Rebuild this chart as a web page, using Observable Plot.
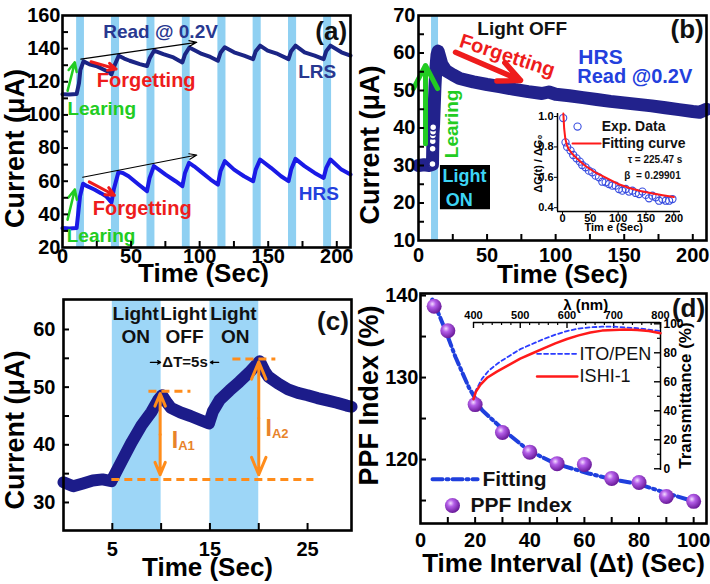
<!DOCTYPE html>
<html>
<head>
<meta charset="utf-8">
<script src="https://cdn.jsdelivr.net/npm/d3@7"></script>
<script src="https://cdn.jsdelivr.net/npm/@observablehq/plot@0.6"></script>
<style>
html,body{margin:0;padding:0;background:#fff;}
#wrap{position:relative;width:710px;height:584px;background:#fff;overflow:hidden;}
</style>
</head>
<body>
<div id="wrap"></div>
<script>
// ================= DATA =================
// ---- Panel (a) ----
const bandsA = [[10.3,16],[35.7,41.6],[61.6,67.4],[87.4,93.1],[113.3,119.2],[139,144.9],[164.8,170.7],[190.4,196.2]];
const lrsA = [[0,112.5],[5,112.3],[10.3,112.6],[12,119],[13,127],[15.3,132.3],[19.6,130.6],[24.5,129.5],[28,128.2],[31.8,126.7],[35.7,124.5],
  [37.5,129],[41,135.7],[45,134],[49,132.7],[56.4,130.7],[61.6,129.5],[63.5,134],[66.8,138.8],[73.5,136.7],[80.9,134.7],[87.4,131.7],
  [89.3,136.5],[92.5,140.7],[101.6,136.8],[107.8,135],[113.3,132.7],[115.2,137.5],[118.3,140.8],[125.1,137.8],[132.4,135.8],[139,133.7],
  [140.9,138.5],[144.1,141.8],[149.6,138.8],[156.9,136.8],[164.8,133.7],[166.7,138.5],[169.9,141.8],[176.5,137.8],[183.9,135.8],[190.4,133.7],
  [192.3,138.5],[195.4,141.8],[203.4,137.8],[210,135.8]];
const hrsA = [[0,31.7],[5,31.5],[10.3,31.7],[11.5,41],[12.8,51],[15,58.5],[18,57],[23.2,55],[28,52.8],[31.8,50.9],[35.7,47.2],
  [37.5,55.5],[40.8,65.5],[44,65],[48.2,63],[55.5,58],[61.6,54],[63.5,62],[66.6,69.1],[70,67.2],[75.2,64],[82.5,60],[87.4,57],
  [89.3,65],[92.3,71.1],[96,69],[102,65],[108,61],[113.3,58],[115.2,66],[118.4,72.1],[125.1,67],[132.4,63],[139,60],
  [140.9,67],[144.1,73.1],[152,68.1],[159.4,63],[164.8,60],[166.7,67],[169.9,73.5],[176.5,69.1],[183.9,65],[190.4,62],
  [192.3,68],[195.4,73.1],[203.4,67],[210,64]];
const yTickLabelsA = [20,40,60,80,100,120,140,160];
const yTicksA = [30,40,50,60,70,80,90,100,110,120,130,140,150];
const xTickLabelsA = [0,50,100,150,200];
const xTicksA = [25,50,75,100,125,150,175,200];
const textA = [
  {t:"Read @ 0.2V", x:71.5, y:149.9, c:"#283890", s:19},
  {t:"LRS", x:185.7, y:125.8, c:"#283890", s:19},
  {t:"HRS", x:186.9, y:52.4, c:"#2340dd", s:19},
  {t:"Forgetting", x:61, y:120.8, c:"#ee1c1c", s:20},
  {t:"Forgetting", x:58.1, y:43.3, c:"#ee1c1c", s:20},
  {t:"Learing", x:28.6, y:103.7, c:"#22cc22", s:19},
  {t:"Learing", x:28.1, y:27.2, c:"#22cc22", s:19},
  {t:"(a)", x:195.9, y:150.5, c:"#111", s:26}
];
const blackArrA = [{x1:13.4,y1:133.7,x2:97.9,y2:143.8},{x1:14.7,y1:62.4,x2:97.9,y2:75.8}];
const redArrA = [{x1:20.8,y1:132.1,x2:39.1,y2:127.7},{x1:19.5,y1:59.6,x2:37.9,y2:51.5}];
const greenArrA = [{x1:3.7,y1:114.5,x2:9,y2:131.7},{x1:3.7,y1:36.8,x2:9,y2:55}];

// ---- Panel (b) ----
const bandsB = [[9.5,14.6]];
const hrsB = [[0,30],[4,30.2],[8,30],[10.2,30.3],[10.4,35],[10.6,38.5],[11,41],[11.5,46],[12,51],[12.7,56],[13.5,59.5],[14.3,60.5],
  [15.5,59],[17,57],[20,55.3],[25,54.2],[30,53.2],[40,52.3],[50,51.6],[60,51],[70,50.3],[80,49.7],[90,49.2],[95,49.6],[100,49],
  [110,48.6],[120,48.1],[130,47.6],[140,47.1],[150,46.7],[160,46.3],[170,45.9],[180,45.4],[190,44.9],[200,44.4],[205,44.2],[210,45]];
const risingB = [[9.6,30.3],[10.2,30.4],[10.3,34.5],[10.4,36.5],[10.5,38],[10.6,39],[10.7,40.2]];
const yTickLabelsB = [10,20,30,40,50,60,70];
const yTicksB = [15,20,25,30,35,40,45,50,55,60,65];
const xTickLabelsB = [0,50,100,150,200];
const xTicksB = [25,50,75,100,125,150,175,200];
const textB = [
  {t:"Light OFF", x:75.6, y:66.3, c:"#111", s:19},
  {t:"(b)", x:195.9, y:66.3, c:"#111", s:26},
  {t:"Forgetting", x:64.7, y:59.3, c:"#ee1c1c", s:20, r:18},
  {t:"HRS", x:132.7, y:58.9, c:"#2340dd", s:21},
  {t:"Read @0.2V", x:157.7, y:53.6, c:"#2340dd", s:20},
  {t:"Learing", x:24.5, y:41.1, c:"#22cc22", s:19, r:-90},
  {t:"Light", x:33.5, y:27.1, c:"#3dd5f5", s:18},
  {t:"ON", x:29.7, y:20.7, c:"#3dd5f5", s:18}
];
const lightOnBoxB = [{x1:16, x2:52.5, y1:18.2, y2:30}];
const redArrB = [{x1:27,y1:60.2,x2:74.4,y2:52.7}];
const greenArrB = [{x1:5.1,y1:35.8,x2:5.1,y2:56.7}];

// ---- Panel (b) inset ----
const expB = [[1.2,0.99],[5.4,0.83],[8.4,0.80],[14.4,0.776],[19.2,0.747],[25.2,0.725],[31.2,0.703],[35.4,0.681],[41.4,0.666],[47.4,0.644],
  [53.4,0.633],[59.5,0.611],[65.5,0.60],[71.5,0.571],[77.5,0.567],[83.5,0.556],[89.5,0.545],[95.5,0.545],[101.5,0.523],[107.5,0.512],
  [113.5,0.523],[119.5,0.506],[125.5,0.512],[131.5,0.497],[137.5,0.49],[143.5,0.506],[149.5,0.484],[155.5,0.462],[161.5,0.479],
  [167.5,0.468],[173.5,0.446],[179.5,0.457],[185.5,0.446],[191.5,0.446],[197.5,0.457]];
const fitB = [[1.5,1.02],[3,0.92],[5,0.855],[8,0.81],[12,0.78],[20,0.745],[30,0.71],[40,0.678],[50,0.653],[60,0.63],[75,0.603],
  [90,0.575],[100,0.556],[120,0.53],[140,0.51],[160,0.495],[180,0.482],[200,0.47]];
const insetBYTicks = [0.4,0.6,0.8,1.0];
const insetBXTicks = [0,50,100,150,200];
const legendDotB = [[27,0.934]];
const legendLineB = [[18,0.822],[68.5,0.822]];
const textInsetB = [
  {t:"Exp. Data", x:70.3, y:0.934, s:14, a:"start"},
  {t:"Fitting curve", x:70.3, y:0.822, s:14, a:"start"},
  {t:"τ = 225.47 s", x:117, y:0.717, s:10, a:"start"},
  {t:"β  = 0.29901", x:111, y:0.611, s:10, a:"start"}
];

// ---- Panel (c) ----
const bandsC = [[5,10],[15,20]];
const curC = [[0,33.5],[1,32.8],[2,33.3],[3,33.8],[4,34],[4.9,33.7],[5.3,35],[6,37.3],[7,40.5],[8,43.4],[9,45.7],[9.7,47.8],[10.1,48.6],
  [10.6,47.3],[11,46.4],[12,45.6],[13,45],[14,44.3],[14.9,43.7],[15.3,45.8],[16,47.8],[17,49.4],[18,50.9],[19,52.5],[19.7,53.8],
  [20.1,54.5],[20.6,52.8],[21,51.8],[22,50.6],[23,49.6],[24,49],[25,48.6],[26,48.1],[27,47.7],[28,47.3],[29,46.8],[29.5,46.6]];
const yTickLabelsC = [30,40,50,60];
const yTicksC = [30,35,40,45,50,55,60];
const xTickLabelsC = [5,15,25];
const xTicksC = [5,10,15,20,25];
const dashC = [{x1:8.7,x2:13,y:49.3},{x1:17.3,x2:21.7,y:54.9},{x1:4.9,x2:25.6,y:34}];
const orangeArrC = [
  {x1:9.9,y1:41.8,x2:9.9,y2:48.9},{x1:9.9,y1:41.8,x2:9.9,y2:34.8},
  {x1:20,y1:44.6,x2:20,y2:54.4},{x1:20,y1:44.6,x2:20,y2:34.8}];
const smallArrC = [{x1:8.9,y1:54.3,x2:9.95,y2:54.3},{x1:15.9,y1:54.3,x2:15.05,y2:54.3}];
const textC = [
  {t:"Light", x:7.4, y:62.7, s:19}, {t:"ON", x:7.4, y:58.7, s:19},
  {t:"Light", x:12.3, y:62.7, s:19}, {t:"OFF", x:12.4, y:58.7, s:19},
  {t:"Light", x:17.4, y:62.7, s:19}, {t:"ON", x:17.6, y:58.7, s:19},
  {t:"ΔT=5s", x:12.45, y:54.3, s:15},
  {t:"(c)", x:27.6, y:61.4, s:26},
  {t:"I", x:11.1, y:40.8, s:23, a:"start", c:"#e8832a"},
  {t:"A1", x:11.75, y:39.9, s:13, a:"start", c:"#e8832a"},
  {t:"I", x:20.7, y:42.8, s:23, a:"start", c:"#e8832a"},
  {t:"A2", x:21.35, y:41.9, s:13, a:"start", c:"#e8832a"}
];

// ---- Panel (d) ----
const intervalD = [5,10,20,30,40,50,60,70,80,90,100];
const ppfD = [138.7,135.7,126.7,123.3,120.9,119.5,119.4,117.7,117.2,115.5,114.9];
const fitD = [[4.3,139.5],[7,137.5],[9.2,135.7],[12.8,132.5],[17.7,128.8],[22.6,126],[31.1,123.4],[39.6,121.1],[49.4,119.5],
  [61.6,118.3],[70,117.6],[80,117],[90,115.9],[100,114.9]];
const yTickLabelsD = [120,130,140];
const yTicksD = [115,120,125,130,135,140];
const xTickLabelsD = [0,20,40,60,80,100];
const xTicksD = [10,20,30,40,50,60,70,80,90,100];
const legendFitD = [[4.4,117.6],[20.9,117.6]];
const legendDotD = [[11.7,114.4]];
const textD = [
  {t:"(d)", x:98.1, y:138.4, s:26},
  {t:"Fitting", x:22.7, y:117.6, s:21, a:"start"},
  {t:"PPF Index", x:18.3, y:114.4, s:21, a:"start"}
];

// ---- Panel (d) inset ----
const itoD = [[400,48],[405,54],[418,62],[432,67.5],[453,73],[475,77.5],[500,82.5],[525,86],[550,89.5],[575,92.5],[600,95],
  [625,96.7],[650,97.6],[675,98],[700,98],[725,97.5],[750,97],[775,96],[800,95]];
const ishiD = [[400,48],[405,53],[415,58],[430,63],[450,67],[475,71.5],[500,76],[525,79.5],[550,83],[575,86.5],[600,89.5],
  [625,92],[650,94],[675,95.3],[700,95.8],[725,96],[750,95.8],[775,95],[800,93.5]];
const insetDTopLabels = [400,500,600,700,800];
const insetDTopMinor = [420,440,460,480,520,540,560,580,620,640,660,680,720,740,760,780];
const insetDRightLabels = [0,20,40,60,80,100];
const insetDRightMinor = [10,30,50,70,90];
const legendItoD = [[536,79.3],[622,79.3]];
const legendIshiD = [[536,63.7],[622,63.7]];
const textInsetD = [
  {t:"ITO/PEN", x:627, y:79.3, s:18, a:"start", w:"normal"},
  {t:"ISHI-1", x:627, y:63.7, s:18, a:"start", w:"normal"}
];

// ================= RENDER =================
const FF = "'Liberation Sans', Arial, Helvetica, sans-serif";
const wrap = document.getElementById("wrap");
const STYLE = {fontFamily: FF, fontWeight: "bold", background: "transparent", overflow: "visible", color: "black"};
function place(svg, left, top) {
  svg.style.position = "absolute"; svg.style.left = left + "px"; svg.style.top = top + "px";
  wrap.appendChild(svg);
}
function texts(arr) {
  return arr.map(d => Plot.text([d], {x: "x", y: "y", text: "t", fill: d.c || "#111", fontSize: d.s,
    rotate: d.r || 0, textAnchor: d.a || "middle", lineAnchor: "middle", fontWeight: d.w || "bold", fontFamily: FF}));
}
function arrows(arr, o) { return Plot.arrow(arr, {x1: "x1", y1: "y1", x2: "x2", y2: "y2", ...o}); }
const P0 = d => d[0], P1 = d => d[1];
function inY(vals, len, iw) { return Plot.tickY(vals, {y: d => d, insetRight: iw - len, stroke: "black", strokeWidth: 2}); }
function inX(vals, len, ih) { return Plot.tickX(vals, {x: d => d, insetTop: ih - len, stroke: "black", strokeWidth: 2}); }
function frame() { return Plot.frame({stroke: "black", strokeWidth: 2.6}); }
function yAxis(ticks, pad, fmt) { return Plot.axisY({ticks, tickSize: 0, tickPadding: pad, fontSize: 20, fontWeight: "bold", label: null, tickFormat: fmt}); }
function xAxis(ticks, pad) { return Plot.axisX({ticks, tickSize: 0, tickPadding: pad, fontSize: 20, fontWeight: "bold", label: null}); }
function xTitle(t, dy, dx) { return Plot.text([t], {frameAnchor: "bottom", dy, dx, textAnchor: "middle", lineAnchor: "middle", fontSize: 26, fontWeight: "bold", fontFamily: FF}); }
function yTitle(t, dx, dy) { return Plot.text([t], {frameAnchor: "left", dx, dy, rotate: -90, textAnchor: "middle", lineAnchor: "middle", fontSize: 27, fontWeight: "bold", fontFamily: FF}); }

// ---- (a) ----
{
  const W = 355, H = 290, ml = 62, mr = 5, mt = 15, mb = 43, iw = W - ml - mr, ih = H - mt - mb;
  const p = Plot.plot({
    width: W, height: H, marginLeft: ml, marginRight: mr, marginTop: mt, marginBottom: mb,
    x: {domain: [0, 210]}, y: {domain: [20, 160]}, style: STYLE,
    marks: [
      Plot.rect(bandsA, {x1: P0, x2: P1, fill: "#8fd0f2"}),
      Plot.line(lrsA, {x: P0, y: P1, stroke: "#1b2585", strokeWidth: 4, strokeLinejoin: "round"}),
      Plot.line(hrsA, {x: P0, y: P1, stroke: "#1a1ae6", strokeWidth: 4, strokeLinejoin: "round"}),
      arrows(blackArrA, {stroke: "black", strokeWidth: 1.2, headLength: 10, headAngle: 40}),
      arrows(redArrA, {stroke: "#ee1c1c", strokeWidth: 3, headLength: 11, headAngle: 50}),
      arrows(greenArrA, {stroke: "#22cc22", strokeWidth: 2.5, headLength: 9, headAngle: 50}),
      ...texts(textA),
      inY(yTicksA, 6, iw), inX(xTicksA, 6, ih),
      yAxis(yTickLabelsA, 2), xAxis(xTickLabelsA, 1),
      xTitle("Time (Sec)", 26, -3), yTitle("Current (μA)", -47, 17),
      frame()
    ]
  });
  place(p, 0, 0);
}
// ---- (b) ----
{
  const W = 355, H = 290, ml = 63, mr = 4, mt = 15, mb = 50, iw = W - ml - mr, ih = H - mt - mb;
  const p = Plot.plot({
    width: W, height: H, marginLeft: ml, marginRight: mr, marginTop: mt, marginBottom: mb,
    x: {domain: [0, 210]}, y: {domain: [10, 70]}, style: STYLE,
    marks: [
      Plot.rect(bandsB, {x1: P0, x2: P1, fill: "#8fd0f2"}),
      Plot.line(hrsB, {x: P0, y: P1, stroke: "#22228c", strokeWidth: 13, strokeLinejoin: "round", strokeLinecap: "round"}),
      Plot.dot(risingB, {x: P0, y: P1, r: 3.5, stroke: "#22228c", fill: "white", strokeWidth: 1.5}),
      Plot.rect(lightOnBoxB, {x1: "x1", x2: "x2", y1: "y1", y2: "y2", fill: "black"}),
      arrows(redArrB, {stroke: "#ee1c1c", strokeWidth: 5.5, headLength: 16, headAngle: 50}),
      arrows(greenArrB, {stroke: "#22cc22", strokeWidth: 5, headLength: 14, headAngle: 55}),
      ...texts(textB),
      inY(yTicksB, 6, iw), inX(xTicksB, 6, ih),
      yAxis(yTickLabelsB, 3), xAxis(xTickLabelsB, 7),
      xTitle("Time (Sec)", 34, 0), yTitle("Current (μA)", -48, 17),
      frame()
    ]
  });
  place(p, 355, 0);
}
// ---- (c) ----
{
  const W = 355, H = 294, ml = 63, mr = 4, mt = 9, mb = 54, iw = W - ml - mr, ih = H - mt - mb;
  const p = Plot.plot({
    width: W, height: H, marginLeft: ml, marginRight: mr, marginTop: mt, marginBottom: mb,
    x: {domain: [0, 29.5]}, y: {domain: [25.14, 65.2]}, style: STYLE,
    marks: [
      Plot.rect(bandsC, {x1: P0, x2: P1, fill: "#9dd6f7"}),
      Plot.line(curC, {x: P0, y: P1, stroke: "#1c1c8a", strokeWidth: 12, strokeLinejoin: "round", strokeLinecap: "round"}),
      Plot.link(dashC, {x1: "x1", x2: "x2", y1: "y", y2: "y", stroke: "#ff8c1a", strokeWidth: 3, strokeDasharray: "8,5"}),
      arrows(orangeArrC, {stroke: "#ff8c1a", strokeWidth: 3, headLength: 12, headAngle: 45}),
      arrows(smallArrC, {stroke: "black", strokeWidth: 1.3, headLength: 5, headAngle: 60}),
      ...texts(textC),
      inY(yTicksC, 6, iw), inX(xTicksC, 7, ih),
      yAxis(yTickLabelsC, 8), xAxis(xTickLabelsC, 11),
      xTitle("Time (Sec)", 37, 0), yTitle("Current (μA)", -48, 15),
      frame()
    ]
  });
  place(p, 0, 290);
}
// ---- (d) ----
{
  const W = 355, H = 294, ml = 65, mr = 4, mt = 3, mb = 61, iw = W - ml - mr, ih = H - mt - mb;
  const defs = () => {
    const d = d3.create("svg:defs");
    const g = d.append("radialGradient").attr("id", "sph").attr("cx", "0.38").attr("cy", "0.35").attr("r", "0.65");
    g.append("stop").attr("offset", "0").attr("stop-color", "#f3dcff");
    g.append("stop").attr("offset", "0.35").attr("stop-color", "#b45ee8");
    g.append("stop").attr("offset", "1").attr("stop-color", "#6a1a9a");
    return d.node();
  };
  const p = Plot.plot({
    width: W, height: H, marginLeft: ml, marginRight: mr, marginTop: mt, marginBottom: mb,
    x: {domain: [0, 104.7]}, y: {domain: [112.2, 140.25]}, style: STYLE,
    marks: [
      defs,
      Plot.line(fitD, {x: P0, y: P1, stroke: "#1f3fdd", strokeWidth: 4, strokeDasharray: "10,4,2,4"}),
      Plot.dot(intervalD, {x: d => d, y: (d, i) => ppfD[i], r: 7.5, fill: "url(#sph)"}),
      Plot.line(legendFitD, {x: P0, y: P1, stroke: "#1f3fdd", strokeWidth: 4, strokeDasharray: "10,4,2,4"}),
      Plot.dot(legendDotD, {x: P0, y: P1, r: 7.5, fill: "url(#sph)"}),
      ...texts(textD),
      inY(yTicksD, 6, iw), inX(xTicksD, 6, ih),
      yAxis(yTickLabelsD, 2), xAxis(xTickLabelsD, 9),
      xTitle("Time Interval (Δt) (Sec)", 40, 0), yTitle("PPF Index (%)", -51, -13),
      frame()
    ]
  });
  place(p, 355, 290);
}
// ---- (b) inset ----
{
  const W = 180, H = 130, ml = 42, mr = 15, mt = 8, mb = 24;
  const p = Plot.plot({
    width: W, height: H, marginLeft: ml, marginRight: mr, marginTop: mt, marginBottom: mb,
    x: {domain: [-9, 212]}, y: {domain: [0.375, 1.02]}, style: STYLE,
    marks: [
      Plot.ruleX([-9], {stroke: "black", strokeWidth: 1.5}),
      Plot.ruleY([0.375], {stroke: "black", strokeWidth: 1.5}),
      Plot.axisY({ticks: insetBYTicks, tickSize: 3, tickPadding: 1, fontSize: 11, fontWeight: "bold", label: null, tickFormat: d3.format(".1f")}),
      Plot.axisX({ticks: insetBXTicks, tickSize: 3, tickPadding: 0, fontSize: 11, fontWeight: "bold", label: null}),
      Plot.dot(expB, {x: P0, y: P1, r: 3.6, stroke: "#3a4fe0", strokeWidth: 1.1, fill: "none"}),
      Plot.line(fitB, {x: P0, y: P1, stroke: "#ff1a1a", strokeWidth: 2}),
      Plot.dot(legendDotB, {x: P0, y: P1, r: 3.6, stroke: "#3a4fe0", strokeWidth: 1.1, fill: "none"}),
      Plot.line(legendLineB, {x: P0, y: P1, stroke: "#ff1a1a", strokeWidth: 2}),
      ...texts(textInsetB),
      Plot.text(["Tim e (Sec)"], {x: 92, frameAnchor: "bottom", dy: 16, textAnchor: "middle", lineAnchor: "middle", fontSize: 11, fontWeight: "bold", fontFamily: FF}),
      Plot.text(["ΔG(t) / ΔG₀"], {y: 0.69, frameAnchor: "left", dx: -19, rotate: -90, textAnchor: "middle", lineAnchor: "middle", fontSize: 11, fontWeight: "bold", fontFamily: FF})
    ]
  });
  place(p, 515, 105);
}
// ---- (d) inset ----
{
  const W = 240, H = 185, ml = 13, mr = 40, mt = 32, mb = 5, iw = W - ml - mr, ih = H - mt - mb;
  const p = Plot.plot({
    width: W, height: H, marginLeft: ml, marginRight: mr, marginTop: mt, marginBottom: mb,
    x: {domain: [400, 800]}, y: {domain: [-1.2, 100.9]}, style: STYLE,
    marks: [
      Plot.ruleY([100.9], {stroke: "black", strokeWidth: 1.5}),
      Plot.ruleX([800], {stroke: "black", strokeWidth: 1.5}),
      Plot.tickX(insetDTopMinor, {x: d => d, insetBottom: ih - 3, stroke: "black", strokeWidth: 1.2}),
      Plot.tickX(insetDTopLabels, {x: d => d, insetBottom: ih - 6, stroke: "black", strokeWidth: 1.4}),
      Plot.tickY(insetDRightMinor, {y: d => d, insetLeft: iw - 3, stroke: "black", strokeWidth: 1.2}),
      Plot.tickY(insetDRightLabels, {y: d => d, insetLeft: iw - 6, stroke: "black", strokeWidth: 1.4}),
      Plot.axisX({anchor: "top", ticks: insetDTopLabels, tickSize: 0, tickPadding: 4, fontSize: 11, fontWeight: "bold", label: null}),
      Plot.axisY({anchor: "right", ticks: insetDRightLabels, tickSize: 0, tickPadding: 3, fontSize: 12, fontWeight: "bold", label: null}),
      Plot.line(itoD, {x: P0, y: P1, stroke: "#2b3cff", strokeWidth: 1.8, strokeDasharray: "4,3"}),
      Plot.line(ishiD, {x: P0, y: P1, stroke: "#ff1a1a", strokeWidth: 2.5}),
      Plot.line(legendItoD, {x: P0, y: P1, stroke: "#2b3cff", strokeWidth: 1.8, strokeDasharray: "4,3"}),
      Plot.line(legendIshiD, {x: P0, y: P1, stroke: "#ff1a1a", strokeWidth: 2.5}),
      ...texts(textInsetD),
      Plot.text(["λ (nm)"], {x: 640, frameAnchor: "top", dy: -17, textAnchor: "middle", lineAnchor: "middle", fontSize: 15, fontWeight: "bold", fontFamily: FF}),
      Plot.text(["Transmittance (%)"], {y: 50.5, frameAnchor: "right", dx: 25, rotate: -90, textAnchor: "middle", lineAnchor: "middle", fontSize: 17, fontWeight: "bold", fontFamily: FF})
    ]
  });
  place(p, 460, 290);
}
</script>
</body>
</html>
